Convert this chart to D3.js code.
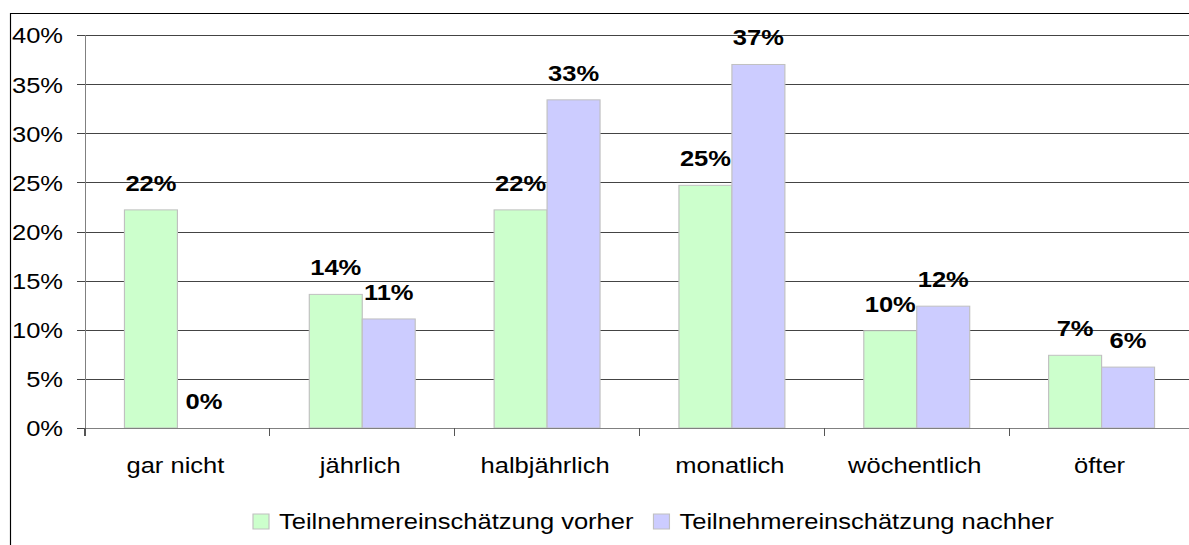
<!DOCTYPE html>
<html>
<head>
<meta charset="utf-8">
<script src="https://cdn.jsdelivr.net/npm/d3@7"></script>
<style>
  html, body { margin: 0; padding: 0; background: #fff; }
  svg { display: block; }
  text { font-family: "Liberation Sans", Arial, sans-serif; }
</style>
</head>
<body>
<div id="chart"></div>
<script>
// data
var categories = ["gar nicht", "jährlich", "halbjährlich", "monatlich", "wöchentlich", "öfter"];
var seriesNames = ["Teilnehmereinschätzung vorher", "Teilnehmereinschätzung nachher"];
var vorher = [0.222, 0.136, 0.222, 0.247, 0.099, 0.074];
var nachher = [0.0, 0.111, 0.334, 0.370, 0.124, 0.062];
var yTicks = [0, 0.05, 0.10, 0.15, 0.20, 0.25, 0.30, 0.35, 0.40];
var colors = ["#ccffcc", "#ccccff"];

function init() {
    d3.select("svg").remove();

    var W = 1189, H = 545;
    var sx = 1.16; // the reference is stretched horizontally
    var vw = W / sx;

    var margin = { left: 85 / sx, top: 35, right: 1194 / sx, bottom: 428 };

    var svg = d3.select("#chart")
        .append("svg")
        .attr("width", W)
        .attr("height", H)
        .attr("viewBox", "0 0 " + vw + " " + H)
        .attr("preserveAspectRatio", "none");

    // outer frame
    svg.append("rect")
        .attr("x", 10.5 / sx)
        .attr("y", 13.5)
        .attr("width", vw)
        .attr("height", H)
        .attr("fill", "none")
        .attr("stroke", "#000")
        .attr("stroke-width", 1);

    var x0 = d3.scaleBand()
        .domain(categories)
        .range([margin.left, margin.right])
        .padding(0);

    var x1 = d3.scaleBand()
        .domain(d3.range(seriesNames.length))
        .range([0, x0.bandwidth()])
        .paddingInner(0)
        .paddingOuter(0.745);

    var y = d3.scaleLinear()
        .domain([0, 0.4])
        .range([margin.bottom, margin.top]);

    // gridlines
    svg.append("g")
        .attr("transform", "translate(" + margin.left + ",0)")
        .call(d3.axisLeft(y).tickValues(yTicks).tickSize(-(vw - margin.left)).tickFormat(""))
        .call(function (g) { g.select(".domain").remove(); })
        .selectAll("line")
        .attr("stroke", "#444")
        .attr("shape-rendering", "crispEdges");

    // y axis
    var yAxis = svg.append("g")
        .attr("transform", "translate(" + margin.left + ",0)")
        .call(d3.axisLeft(y).tickValues(yTicks).tickSize(8 / sx).tickPadding(14 / sx)
            .tickFormat(d3.format(".0%")));
    yAxis.select(".domain").attr("stroke", "#808080").attr("shape-rendering", "crispEdges");
    yAxis.selectAll(".tick line").attr("stroke", "#444").attr("shape-rendering", "crispEdges");
    yAxis.selectAll(".tick text")
        .attr("font-size", 22)
        .attr("font-family", "Liberation Sans, Arial, sans-serif")
        .attr("fill", "#000")
        .attr("dy", "0.36em");

    // bars
    var data = categories.map(function (c, i) {
        return { cat: c, values: [vorher[i], nachher[i]] };
    });

    var groups = svg.append("g").selectAll("g")
        .data(data)
        .enter()
        .append("g")
        .attr("transform", function (d) { return "translate(" + x0(d.cat) + ",0)"; });

    groups.selectAll("rect")
        .data(function (d) { return d.values.map(function (v, j) { return { v: v, j: j }; }); })
        .enter()
        .filter(function (d) { return d.v > 0; })
        .append("rect")
        .attr("x", function (d) { return x1(d.j); })
        .attr("y", function (d) { return y(d.v); })
        .attr("width", x1.bandwidth())
        .attr("height", function (d) { return y(0) - y(d.v); })
        .attr("fill", function (d) { return colors[d.j]; })
        .attr("stroke", "#c0c0c0")
        .attr("stroke-width", 1);

    // value labels
    groups.selectAll("text.val")
        .data(function (d) { return d.values.map(function (v, j) { return { v: v, j: j }; }); })
        .enter()
        .append("text")
        .attr("class", "val")
        .attr("x", function (d) { return x1(d.j) + x1.bandwidth() / 2; })
        .attr("y", function (d) { return y(d.v) - 19; })
        .attr("text-anchor", "middle")
        .attr("font-size", 22)
        .attr("font-weight", "bold")
        .attr("fill", "#000")
        .text(function (d) { return d3.format(".0%")(d.v); });

    // x axis line and boundary ticks
    svg.append("line")
        .attr("x1", margin.left)
        .attr("x2", vw)
        .attr("y1", y(0))
        .attr("y2", y(0))
        .attr("stroke", "#808080")
        .attr("shape-rendering", "crispEdges");

    var bounds = categories.map(function (c) { return x0(c); }).concat([margin.right]);
    svg.append("g").selectAll("line")
        .data(bounds)
        .enter()
        .append("line")
        .attr("x1", function (d) { return d; })
        .attr("x2", function (d) { return d; })
        .attr("y1", y(0))
        .attr("y2", y(0) + 8)
        .attr("stroke", "#555")
        .attr("shape-rendering", "crispEdges");

    svg.append("g").selectAll("text")
        .data(categories)
        .enter()
        .append("text")
        .attr("x", function (d) { return x0(d) + x0.bandwidth() / 2 - 2 / sx; })
        .attr("y", 473)
        .attr("text-anchor", "middle")
        .attr("font-size", 22)
        .attr("fill", "#000")
        .text(function (d) { return d; });

    // legend
    var legend = svg.append("g");
    var lx = 253 / sx;
    seriesNames.forEach(function (name, i) {
        legend.append("rect")
            .attr("x", lx)
            .attr("y", 514)
            .attr("width", 16 / sx)
            .attr("height", 15)
            .attr("fill", colors[i])
            .attr("stroke", "#c0c0c0");
        var t = legend.append("text")
            .attr("x", lx + 26 / sx)
            .attr("y", 529)
            .attr("font-size", 22)
            .attr("fill", "#000")
            .text(name);
        lx = lx + 26 / sx + t.node().getComputedTextLength() + 20 / sx;
    });
}

window.onload = init;
</script>
</body>
</html>
